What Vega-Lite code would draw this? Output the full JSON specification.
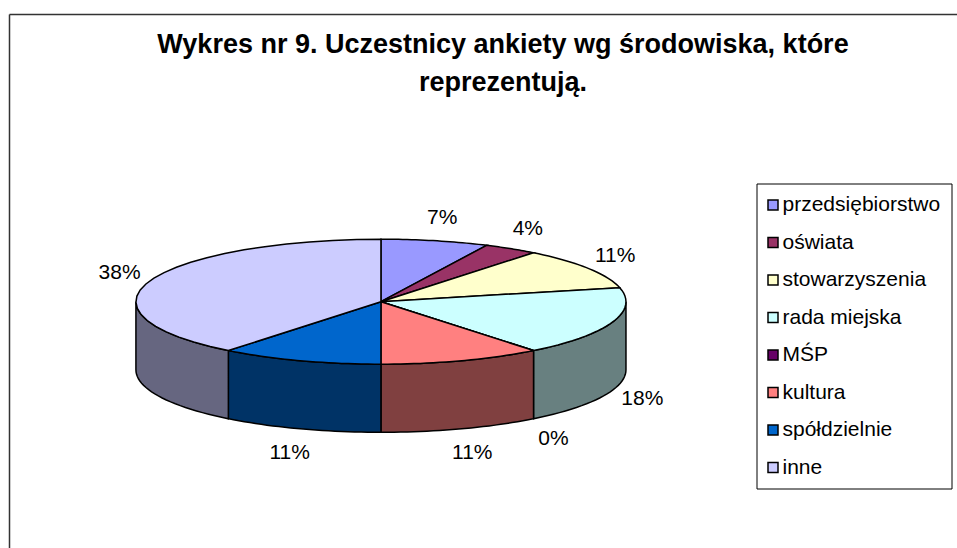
{
"$schema":"https://vega.github.io/schema/vega-lite/v6.json",
"width":948,"height":534,"autosize":"none",
"padding":{"left":9,"top":14,"right":0,"bottom":0},
"background":"white",
"config":{"view":{"stroke":null},"font":"Liberation Sans"},
"title":{"text":["Wykres nr 9. Uczestnicy ankiety wg środowiska, które","reprezentują."],"font":"Liberation Sans","fontSize":27,"fontWeight":"bold","color":"#000000","anchor":"middle","frame":"group","baseline":"alphabetic","offset":-41,"dy":63,"dx":20,"lineHeight":38},
"data":{"values":[
{"name":"przedsiębiorstwo","ord":1,"value":7.1,"label":"7%"},
{"name":"oświata","ord":2,"value":3.6,"label":"4%"},
{"name":"stowarzyszenia","ord":3,"value":10.7,"label":"11%"},
{"name":"rada miejska","ord":4,"value":17.9,"label":"18%"},
{"name":"MŚP","ord":5,"value":0,"label":"0%"},
{"name":"kultura","ord":6,"value":10.7,"label":"11%"},
{"name":"spółdzielnie","ord":7,"value":10.7,"label":"11%"},
{"name":"inne","ord":8,"value":39.3,"label":"38%"}
]},
"transform":[
{"window":[{"op":"sum","field":"value","as":"cum"}],"sort":[{"field":"ord","order":"ascending"}]},
{"joinaggregate":[{"op":"sum","field":"value","as":"total"}]},
{"calculate":"(datum.cum-datum.value)/datum.total","as":"start"},
{"calculate":"datum.cum/datum.total","as":"end"}
],
"encoding":{
"x":{"field":"x","type":"quantitative","scale":{"domain":[-1.518,2.351],"nice":false,"zero":false},"axis":{"orient":"top","title":null,"ticks":false,"labels":false,"grid":false,"domainColor":"#333333","domainWidth":1.5}},
"y":{"field":"y","type":"quantitative","scale":{"domain":[-3.941,4.603],"nice":false,"zero":false},"axis":{"orient":"left","title":null,"ticks":false,"labels":false,"grid":false,"domainColor":"#333333","domainWidth":1.5}}
},
"layer":[
{"transform":[
{"calculate":"max(datum.start,0.25)","as":"s0"},
{"calculate":"min(datum.end,0.75)","as":"s1"},
{"filter":"datum.s1>datum.s0"},
{"calculate":"[0,0.04,0.08,0.12,0.16,0.2,0.24,0.28,0.32,0.36,0.4,0.44,0.48,0.52,0.56,0.6,0.64,0.68,0.72,0.76,0.8,0.84,0.88,0.92,0.96,1]","as":"t"},
{"flatten":["t"]},
{"calculate":"2*PI*(datum.s0+datum.t*(datum.s1-datum.s0))","as":"a"},
{"calculate":"sin(datum.a)","as":"x"},
{"calculate":"cos(datum.a)","as":"y"},
{"calculate":"datum.y-1.09","as":"yb"}
],
"mark":{"type":"area","stroke":"#000000","strokeWidth":1.5,"interpolate":"linear"},
"encoding":{
"y2":{"field":"yb"},
"fill":{"field":"name","type":"nominal","legend":null,"scale":{"domain":["rada miejska","kultura","spółdzielnie","inne"],"range":["#688080","#804040","#003366","#666680"]}}
}},
{"transform":[
{"calculate":"[-1,0,0.04,0.08,0.12,0.16,0.2,0.24,0.28,0.32,0.36,0.4,0.44,0.48,0.52,0.56,0.6,0.64,0.68,0.72,0.76,0.8,0.84,0.88,0.92,0.96,1,2]","as":"t"},
{"flatten":["t"]},
{"calculate":"2*PI*(datum.start+datum.t*(datum.end-datum.start))","as":"a"},
{"calculate":"datum.t<0||datum.t>1?0:sin(datum.a)","as":"x"},
{"calculate":"datum.t<0||datum.t>1?0:cos(datum.a)","as":"y"}
],
"mark":{"type":"line","stroke":"#000000","strokeWidth":1.5,"interpolate":"linear"},
"encoding":{
"order":{"field":"t","type":"quantitative"},
"fill":{"field":"name","type":"nominal",
"scale":{"domain":["przedsiębiorstwo","oświata","stowarzyszenia","rada miejska","MŚP","kultura","spółdzielnie","inne"],"range":["#9999FF","#993366","#FFFFCC","#CCFFFF","#660066","#FF8080","#0066CC","#CCCCFF"]},
"legend":{"orient":"none","legendX":747.5,"legendY":169.5,"title":null,"symbolType":"square","symbolSize":100,"symbolStrokeColor":"#000000","symbolStrokeWidth":1.5,"symbolOffset":-5,"labelFont":"Liberation Sans","labelFontSize":21,"labelColor":"#000000","labelLimit":300,"labelOffset":-1,"rowPadding":15.5,"strokeColor":"#000000","padding":11,"fillColor":"#ffffff","values":["przedsiębiorstwo","oświata","stowarzyszenia","rada miejska","MŚP","kultura","spółdzielnie","inne"]}}
}},
{"transform":[
{"calculate":"2*PI*(datum.start+datum.end)/2","as":"a"},
{"calculate":"1.13*sin(datum.a)","as":"x"},
{"calculate":"cos(datum.a)>0?1.38*cos(datum.a):1.4*cos(datum.a)-1.1","as":"y"}
],
"mark":{"type":"text","font":"Liberation Sans","fontSize":21,"color":"#000000","align":"center","baseline":"middle"},
"encoding":{"text":{"field":"label","type":"nominal"}}
}
],
"resolve":{"scale":{"fill":"independent"}}
}
